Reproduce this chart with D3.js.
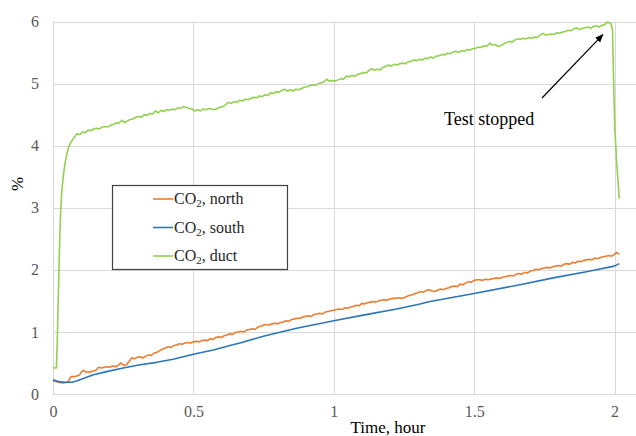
<!DOCTYPE html>
<html>
<head>
<meta charset="utf-8">
<script src="https://cdn.jsdelivr.net/npm/d3@7"></script>
<style>
  html, body { margin: 0; padding: 0; background: #ffffff; }
  svg { display: block; }
</style>
</head>
<body>
<svg id="chart" width="636" height="436"></svg>
<script>
// ---------- DATA ----------
const xTicks = [0, 0.5, 1, 1.5, 2];
const xTickLabels = ["0", "0.5", "1", "1.5", "2"];
const yTicks = [0, 1, 2, 3, 4, 5, 6];
const yTickLabels = ["0", "1", "2", "3", "4", "5", "6"];
const seriesNames = ["north", "south", "duct"];

const northTime = [0,0.01,0.02,0.03,0.04,0.05,0.055,0.06,0.065,0.075,0.085,0.095,0.102,0.108,0.115,0.125,0.135,0.145,0.155,0.162,0.172,0.182,0.192,0.202,0.212,0.222,0.232,0.242,0.252,0.262,0.27,0.28,0.29,0.30,0.31,0.32,0.33,0.34,0.35,0.36,0.37,0.38,0.39,0.40,0.41,0.42,0.43,0.44,0.45,0.46,0.47,0.48,0.49,0.50,0.51,0.52,0.53,0.54,0.55,0.56,0.57,0.58,0.59,0.60,0.61,0.62,0.63,0.64,0.65,0.66,0.67,0.68,0.69,0.70,0.71,0.72,0.73,0.74,0.75,0.76,0.77,0.78,0.79,0.80,0.81,0.82,0.83,0.84,0.85,0.86,0.87,0.88,0.89,0.90,0.91,0.92,0.93,0.94,0.95,0.96,0.97,0.98,0.99,1.00,1.01,1.02,1.03,1.04,1.05,1.06,1.07,1.08,1.09,1.10,1.11,1.12,1.13,1.14,1.15,1.16,1.17,1.18,1.19,1.20,1.21,1.22,1.23,1.24,1.25,1.26,1.27,1.28,1.29,1.30,1.31,1.32,1.33,1.34,1.35,1.36,1.37,1.38,1.39,1.40,1.41,1.42,1.43,1.44,1.45,1.46,1.47,1.48,1.49,1.50,1.51,1.52,1.53,1.54,1.55,1.56,1.57,1.58,1.59,1.60,1.61,1.62,1.63,1.64,1.65,1.66,1.67,1.68,1.69,1.70,1.71,1.72,1.73,1.74,1.75,1.76,1.77,1.78,1.79,1.80,1.81,1.82,1.83,1.84,1.85,1.86,1.87,1.88,1.89,1.90,1.91,1.92,1.93,1.94,1.95,1.96,1.97,1.98,1.99,2.00,2.007,2.017];
const northValue = [0.21,0.20,0.19,0.18,0.18,0.19,0.20,0.25,0.28,0.28,0.29,0.31,0.36,0.38,0.36,0.35,0.36,0.37,0.39,0.43,0.42,0.43,0.44,0.43,0.45,0.44,0.46,0.50,0.46,0.47,0.52,0.58,0.57,0.59,0.60,0.58,0.61,0.63,0.62,0.66,0.67,0.70,0.72,0.74,0.76,0.75,0.78,0.79,0.81,0.80,0.82,0.83,0.82,0.84,0.85,0.84,0.86,0.87,0.86,0.89,0.88,0.91,0.92,0.91,0.94,0.95,0.97,0.96,0.99,1.00,1.01,1.00,1.03,1.04,1.05,1.04,1.08,1.09,1.11,1.12,1.11,1.13,1.14,1.13,1.15,1.16,1.18,1.17,1.20,1.21,1.22,1.22,1.24,1.25,1.26,1.25,1.28,1.29,1.30,1.29,1.32,1.33,1.34,1.35,1.36,1.37,1.36,1.39,1.38,1.40,1.41,1.43,1.42,1.46,1.45,1.47,1.48,1.49,1.48,1.50,1.51,1.52,1.51,1.53,1.54,1.54,1.55,1.54,1.55,1.57,1.59,1.60,1.62,1.63,1.65,1.64,1.67,1.68,1.66,1.65,1.67,1.69,1.68,1.70,1.71,1.73,1.74,1.73,1.77,1.76,1.79,1.81,1.80,1.83,1.84,1.84,1.83,1.85,1.84,1.85,1.86,1.87,1.86,1.88,1.89,1.90,1.91,1.90,1.93,1.94,1.93,1.96,1.95,1.98,1.99,2.01,2.00,2.02,2.03,2.04,2.03,2.05,2.06,2.07,2.06,2.09,2.10,2.09,2.12,2.11,2.14,2.13,2.15,2.16,2.17,2.16,2.19,2.18,2.20,2.21,2.22,2.23,2.22,2.25,2.28,2.25,2.22,2.19];

const southTime = [0,0.019,0.043,0.067,0.084,0.108,0.144,0.191,0.25,0.31,0.369,0.428,0.5,0.571,0.63,0.666,0.749,0.868,1.0,1.105,1.224,1.307,1.343,1.5,1.663,1.782,1.9,1.999,2.017];
const southValue = [0.23,0.20,0.19,0.19,0.21,0.25,0.31,0.36,0.42,0.47,0.51,0.56,0.64,0.71,0.78,0.82,0.93,1.06,1.18,1.27,1.37,1.45,1.49,1.62,1.76,1.87,1.97,2.06,2.10];

const ductTime = [0,0.006,0.012,0.015,0.018,0.021,0.024,0.027,0.031,0.037,0.043,0.05,0.056,0.064,0.075,0.085,0.095,0.105,0.115,0.125,0.135,0.145,0.155,0.165,0.175,0.185,0.195,0.205,0.215,0.225,0.235,0.245,0.255,0.265,0.275,0.285,0.295,0.305,0.315,0.325,0.335,0.345,0.355,0.365,0.375,0.385,0.395,0.405,0.415,0.425,0.435,0.445,0.455,0.465,0.475,0.485,0.495,0.505,0.515,0.525,0.535,0.545,0.555,0.565,0.575,0.585,0.595,0.605,0.615,0.625,0.635,0.645,0.655,0.665,0.675,0.685,0.695,0.705,0.715,0.725,0.735,0.745,0.755,0.765,0.775,0.785,0.795,0.805,0.815,0.825,0.835,0.845,0.855,0.865,0.875,0.885,0.895,0.905,0.915,0.925,0.935,0.945,0.955,0.965,0.975,0.985,0.995,1.005,1.015,1.025,1.035,1.045,1.055,1.065,1.075,1.085,1.095,1.105,1.115,1.125,1.135,1.145,1.155,1.165,1.175,1.185,1.195,1.205,1.215,1.225,1.235,1.245,1.255,1.265,1.275,1.285,1.295,1.305,1.315,1.325,1.335,1.345,1.355,1.365,1.375,1.385,1.395,1.405,1.415,1.425,1.435,1.445,1.455,1.465,1.475,1.485,1.495,1.505,1.515,1.525,1.535,1.545,1.555,1.565,1.575,1.585,1.595,1.605,1.615,1.625,1.635,1.645,1.655,1.665,1.675,1.685,1.695,1.705,1.715,1.725,1.735,1.745,1.755,1.765,1.775,1.785,1.795,1.805,1.815,1.825,1.835,1.845,1.855,1.865,1.875,1.885,1.895,1.905,1.915,1.925,1.935,1.945,1.955,1.965,1.975,1.982,1.988,1.993,1.997,2.001,2.008,2.017];
const ductValue = [0.43,0.42,0.42,0.8,1.4,1.95,2.5,2.9,3.25,3.52,3.72,3.88,3.98,4.06,4.13,4.19,4.18,4.22,4.21,4.25,4.24,4.27,4.28,4.27,4.30,4.31,4.30,4.33,4.34,4.37,4.36,4.41,4.37,4.40,4.42,4.43,4.46,4.47,4.46,4.50,4.49,4.52,4.51,4.56,4.53,4.57,4.55,4.58,4.57,4.59,4.58,4.61,4.60,4.63,4.62,4.60,4.59,4.56,4.58,4.56,4.59,4.58,4.60,4.59,4.58,4.60,4.62,4.63,4.66,4.70,4.68,4.71,4.70,4.73,4.72,4.75,4.74,4.76,4.78,4.77,4.80,4.79,4.82,4.81,4.85,4.84,4.87,4.86,4.89,4.91,4.88,4.90,4.88,4.91,4.90,4.92,4.94,4.95,4.97,4.98,4.97,5.00,5.01,5.03,5.07,5.04,5.05,5.04,5.06,5.08,5.07,5.12,5.11,5.13,5.12,5.15,5.16,5.18,5.17,5.21,5.24,5.22,5.23,5.22,5.26,5.28,5.30,5.28,5.31,5.30,5.32,5.33,5.32,5.35,5.36,5.38,5.37,5.39,5.38,5.41,5.40,5.43,5.41,5.44,5.45,5.47,5.46,5.49,5.48,5.51,5.52,5.50,5.53,5.52,5.55,5.54,5.56,5.57,5.59,5.58,5.61,5.60,5.65,5.62,5.63,5.60,5.61,5.64,5.66,5.68,5.67,5.70,5.72,5.71,5.73,5.72,5.74,5.73,5.75,5.74,5.78,5.81,5.78,5.79,5.80,5.79,5.82,5.81,5.83,5.84,5.86,5.85,5.88,5.90,5.87,5.89,5.90,5.91,5.89,5.92,5.93,5.91,5.94,5.95,5.99,5.98,5.96,5.85,5.0,4.3,3.7,3.15];

const legendLabels = ["north", "south", "duct"];
const colors = { north: "#ED7D31", south: "#2E75B6", duct: "#92D050" };
const annotationText = "Test stopped";
const annotationPoint = [1.98, 5.95];   // arrow target (data units)
const xTitle = "Time, hour";
const yTitle = "%";

// ---------- LAYOUT ----------
const svg = d3.select("#chart");
const plotLeft = 53, plotTop = 21.5, plotBottom = 394;
const x = d3.scaleLinear().domain([0, 2]).range([plotLeft, 614.5]);
const y = d3.scaleLinear().domain([0, 6]).range([plotBottom, plotTop]);
const plotRight = 636;

const serif = "'Liberation Serif', 'Times New Roman', serif";
const grid = "#d9d9d9";

// gridlines
const gx = svg.append("g");
yTicks.forEach(v => {
  gx.append("line").attr("x1", plotLeft).attr("x2", plotRight)
    .attr("y1", Math.round(y(v)) + 0.5).attr("y2", Math.round(y(v)) + 0.5)
    .attr("stroke", grid).attr("stroke-width", 1);
});
xTicks.forEach(v => {
  gx.append("line").attr("x1", Math.round(x(v)) + 0.5).attr("x2", Math.round(x(v)) + 0.5)
    .attr("y1", plotTop).attr("y2", plotBottom)
    .attr("stroke", grid).attr("stroke-width", 1);
});

// axes via d3 axis generators (labels only, lines styled as gridlines)
const xAxis = d3.axisBottom(x).tickValues(xTicks).tickFormat((d, i) => xTickLabels[i]).tickSize(0).tickPadding(12);
const yAxis = d3.axisLeft(y).tickValues(yTicks).tickFormat((d, i) => yTickLabels[i]).tickSize(0).tickPadding(14);
const gxa = svg.append("g").attr("transform", `translate(0,${plotBottom})`).call(xAxis);
const gya = svg.append("g").attr("transform", `translate(${plotLeft},0)`).call(yAxis);
[gxa, gya].forEach(g => {
  g.select(".domain").remove();
  g.selectAll("text").attr("font-family", serif).attr("font-size", 16).attr("fill", "#595959");
});

// series
const line = d3.line().x(d => x(d[0])).y(d => y(d[1]));
const zip = (t, v) => t.map((tt, i) => [tt, v[i]]);
const seriesData = {
  duct: zip(ductTime, ductValue),
  north: zip(northTime, northValue),
  south: zip(southTime, southValue)
};
["duct", "north", "south"].forEach(k => {
  svg.append("path").datum(seriesData[k]).attr("d", line)
    .attr("fill", "none").attr("stroke", colors[k]).attr("stroke-width", 1.6)
    .attr("stroke-linejoin", "round");
});

// axis titles
svg.append("text").attr("x", 388).attr("y", 433).attr("text-anchor", "middle")
  .attr("font-family", serif).attr("font-size", 17).attr("fill", "#000").text(xTitle);
svg.append("text").attr("transform", "translate(23,184) rotate(-90)").attr("text-anchor", "middle")
  .attr("font-family", serif).attr("font-size", 17).attr("fill", "#000").text(yTitle);

// legend
const lg = svg.append("g");
lg.append("rect").attr("x", 112.5).attr("y", 185.5).attr("width", 175).attr("height", 84)
  .attr("fill", "#fff").attr("stroke", "#404040").attr("stroke-width", 1.2);
legendLabels.forEach((k, i) => {
  const cy = 199 + i * 28.5;
  lg.append("line").attr("x1", 153).attr("x2", 173).attr("y1", cy).attr("y2", cy)
    .attr("stroke", colors[k]).attr("stroke-width", 1.6);
  const t = lg.append("text").attr("x", 174).attr("y", cy + 5)
    .attr("font-family", serif).attr("font-size", 16).attr("fill", "#262626");
  t.append("tspan").text("CO");
  t.append("tspan").attr("font-size", 11).attr("dy", 3).text("2");
  t.append("tspan").attr("dy", -3).text(", " + k);
});

// annotation
svg.append("defs").append("marker").attr("id", "arrow").attr("viewBox", "0 0 10 10")
  .attr("refX", 9).attr("refY", 5).attr("markerWidth", 7).attr("markerHeight", 7)
  .attr("orient", "auto").append("path").attr("d", "M0,1 L10,5 L0,9 z").attr("fill", "#000");
svg.append("line").attr("x1", 542).attr("y1", 98).attr("x2", x(annotationPoint[0]) - 6).attr("y2", y(annotationPoint[1]) + 10)
  .attr("stroke", "#000").attr("stroke-width", 1.2).attr("marker-end", "url(#arrow)");
svg.append("text").attr("x", 444).attr("y", 125).attr("font-family", serif).attr("font-size", 18)
  .attr("fill", "#000").text(annotationText);
</script>
</body>
</html>
